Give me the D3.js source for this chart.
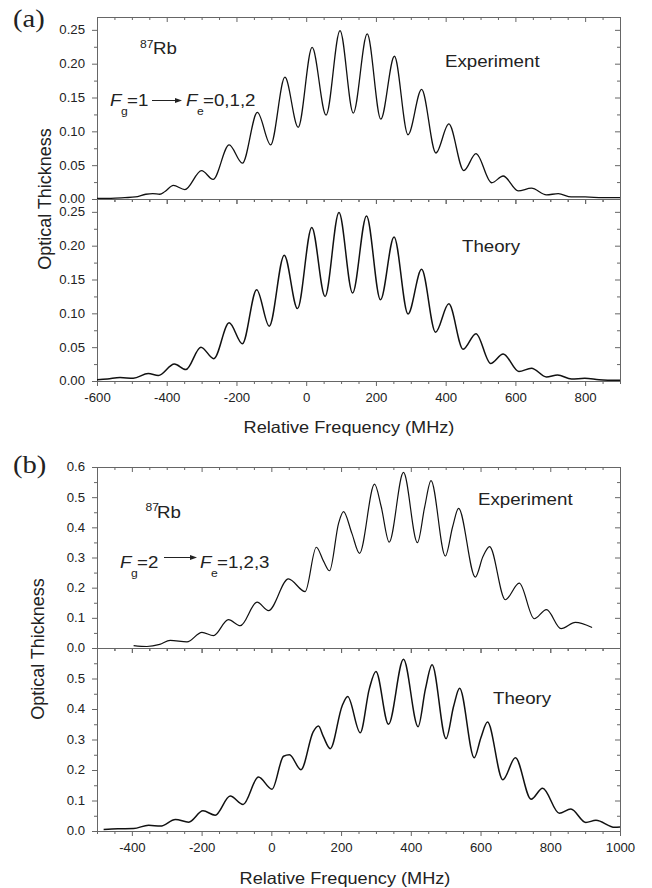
<!DOCTYPE html>
<html>
<head>
<meta charset="utf-8">
<script src="https://cdn.jsdelivr.net/npm/d3@7"></script>
<style>
  body { margin: 0; background: #fff; }
  svg text { font-family: 'Liberation Sans', Arial, sans-serif; fill: #222; }
  .axis path, .axis line { stroke: #666; }
</style>
</head>
<body>
<div id="chart"></div>
<script>
// ---- panel (a): Fg=1 -> Fe=0,1,2 ----
let aExpFreq = [-600, -560, -520, -490, -460, -440, -420, -405, -381, -348, -300, -267, -221, -183, -140, -102, -61, -23, 17, 57, 97, 135, 175, 214, 253, 292, 331, 372, 409, 452, 487, 532, 565, 608, 646, 689, 723, 760, 800, 850, 900]
let aExpOD = [0.001, 0.001, 0.002, 0.003, 0.007, 0.008, 0.007, 0.011, 0.020, 0.014, 0.042, 0.029, 0.080, 0.053, 0.128, 0.080, 0.180, 0.106, 0.224, 0.124, 0.249, 0.127, 0.244, 0.118, 0.211, 0.095, 0.162, 0.068, 0.111, 0.042, 0.067, 0.024, 0.034, 0.012, 0.016, 0.006, 0.008, 0.003, 0.003, 0.002, 0.002]

let aTheoFreq = [-600, -570, -534, -496, -453, -424, -378, -345, -302, -265, -221, -183, -142, -106, -63, -25, 16, 54, 94, 133, 173, 213, 252, 292, 331, 371, 409, 450, 487, 529, 565, 610, 646, 689, 721, 761, 799, 840, 900]
let aTheoOD = [0.002, 0.003, 0.005, 0.004, 0.011, 0.008, 0.025, 0.017, 0.050, 0.033, 0.086, 0.055, 0.135, 0.081, 0.186, 0.107, 0.227, 0.125, 0.249, 0.130, 0.244, 0.120, 0.213, 0.099, 0.165, 0.072, 0.114, 0.047, 0.070, 0.026, 0.040, 0.014, 0.019, 0.006, 0.009, 0.003, 0.004, 0.002, 0.001]

// ---- panel (b): Fg=2 -> Fe=1,2,3 ----
let bExpFreq = [-395, -357, -320, -290, -242, -199, -166, -123, -89, -41, -8, 49, 97, 129, 150, 167, 193, 207, 231, 253, 296, 315, 338, 379, 419, 440, 458, 499, 520, 537, 585, 607, 626, 671, 711, 754, 789, 831, 872, 920]
let bExpOD = [0.008, 0.005, 0.012, 0.025, 0.020, 0.052, 0.041, 0.094, 0.074, 0.152, 0.124, 0.229, 0.187, 0.334, 0.287, 0.256, 0.414, 0.452, 0.380, 0.314, 0.543, 0.469, 0.351, 0.582, 0.349, 0.469, 0.555, 0.305, 0.402, 0.463, 0.235, 0.303, 0.336, 0.160, 0.215, 0.097, 0.127, 0.064, 0.085, 0.068]

let bTheoFreq = [-481, -440, -395, -352, -318, -275, -237, -196, -161, -118, -81, -37, 2, 35, 52, 85, 120, 135, 149, 169, 203, 219, 255, 281, 300, 336, 379, 421, 442, 461, 501, 523, 540, 582, 601, 620, 664, 700, 745, 778, 826, 859, 902, 931, 985, 1000]
let bTheoOD = [0.005, 0.007, 0.008, 0.019, 0.016, 0.038, 0.029, 0.066, 0.052, 0.115, 0.087, 0.177, 0.137, 0.245, 0.250, 0.201, 0.325, 0.344, 0.310, 0.270, 0.410, 0.441, 0.322, 0.466, 0.523, 0.350, 0.563, 0.342, 0.466, 0.545, 0.303, 0.410, 0.468, 0.240, 0.306, 0.357, 0.168, 0.240, 0.104, 0.140, 0.058, 0.072, 0.028, 0.035, 0.012, 0.013]

// ticks
let aXTicks = [-600, -400, -200, 0, 200, 400, 600, 800]
let aYTicks = [0, 0.05, 0.10, 0.15, 0.20, 0.25]
let bXTicks = [-400, -200, 0, 200, 400, 600, 800, 1000]
let bYTicks = [0, 0.1, 0.2, 0.3, 0.4, 0.5, 0.6]

let width = 652
let height = 888
let left = 97
let right = 620

let svg = d3
  .select('#chart')
  .append('svg')
  .attr('width', width)
  .attr('height', height)

function addAxis(axisFn, scale, values, size, fmt, transform) {
  svg
    .append('g')
    .attr('class', 'axis')
    .attr('transform', transform)
    .call(
      axisFn(scale)
        .tickValues(values)
        .tickSize(size)
        .tickSizeOuter(0)
        .tickPadding(7)
        .tickFormat(fmt)
    )
    .call(g => g.selectAll('text').attr('font-size', 12).attr('fill', '#222').attr('class', 'wide'))
}

function drawPlot(p) {
  let x = d3.scaleLinear().domain(p.xDomain).range([left, right])
  let y = d3.scaleLinear().domain([0, p.yMax]).range([p.bottom, p.top])
  let none = () => ''

  // frame: bottom & top (ticks point down), left & right (ticks point left)
  let bottomLabels = p.xLabels ? d => String(d) : none
  addAxis(d3.axisBottom, x, p.xMajor, 5, bottomLabels, 'translate(0,' + p.bottom + ')')
  addAxis(d3.axisBottom, x, p.xMinor, 3, none, 'translate(0,' + p.bottom + ')')
  addAxis(d3.axisBottom, x, p.xMajor, 5, none, 'translate(0,' + p.top + ')')
  addAxis(d3.axisBottom, x, p.xMinor, 3, none, 'translate(0,' + p.top + ')')

  addAxis(d3.axisLeft, y, p.yMajor, 5, v => (p.yLabels.indexOf(v) >= 0 ? d3.format(p.yFmt)(v) : ''), 'translate(' + left + ',0)')
  addAxis(d3.axisLeft, y, p.yMinor, 3, none, 'translate(' + left + ',0)')
  addAxis(d3.axisLeft, y, p.yMajor, 5, none, 'translate(' + right + ',0)')
  addAxis(d3.axisLeft, y, p.yMinor, 3, none, 'translate(' + right + ',0)')

  let line = d3
    .line()
    .curve(p.curve)
    .x(d => x(d[0]))
    .y(d => y(d[1]))

  svg
    .append('path')
    .datum(d3.zip(p.freq, p.od))
    .attr('d', line)
    .attr('fill', 'none')
    .attr('stroke', '#111')
    .attr('stroke-width', p.lineWidth)
    .attr('stroke-linejoin', 'round')
}

// panel (a)
let aXMinor = d3.range(-600, 901, 50).filter(v => aXTicks.indexOf(v) < 0)
let aYMinor = [0.025, 0.075, 0.125, 0.175, 0.225]
drawPlot({
  xDomain: [-600, 900], yMax: 0.269, top: 17, bottom: 199,
  xMajor: aXTicks, xMinor: aXMinor, xLabels: false,
  yMajor: aYTicks, yMinor: aYMinor, yLabels: aYTicks, yFmt: '.2f',
  freq: aExpFreq, od: aExpOD, curve: d3.curveMonotoneX, lineWidth: 1.3
})
drawPlot({
  xDomain: [-600, 900], yMax: 0.269, top: 199, bottom: 381,
  xMajor: aXTicks, xMinor: aXMinor, xLabels: true,
  yMajor: aYTicks, yMinor: aYMinor, yLabels: aYTicks, yFmt: '.2f',
  freq: aTheoFreq, od: aTheoOD, curve: d3.curveMonotoneX, lineWidth: 1.5
})

// panel (b)
let bXMinor = d3.range(-500, 1001, 50).filter(v => bXTicks.indexOf(v) < 0)
let bYMinor = [0.05, 0.15, 0.25, 0.35, 0.45, 0.55]
drawPlot({
  xDomain: [-500, 1000], yMax: 0.6, top: 467, bottom: 648,
  xMajor: bXTicks, xMinor: bXMinor, xLabels: false,
  yMajor: bYTicks, yMinor: bYMinor, yLabels: bYTicks, yFmt: '.1f',
  freq: bExpFreq, od: bExpOD, curve: d3.curveMonotoneX, lineWidth: 1.2
})
drawPlot({
  xDomain: [-500, 1000], yMax: 0.6, top: 648, bottom: 831,
  xMajor: bXTicks, xMinor: bXMinor, xLabels: true,
  yMajor: bYTicks, yMinor: bYMinor, yLabels: bYTicks.slice(0, 6), yFmt: '.1f',
  freq: bTheoFreq, od: bTheoOD, curve: d3.curveMonotoneX, lineWidth: 1.5
})

// text helper
function label(x, y, str, size, opts) {
  opts = opts || {}
  return svg
    .append('text')
    .attr('class', 'wide')
    .attr('x', x)
    .attr('y', y)
    .attr('font-size', size)
    .attr('text-anchor', opts.anchor || 'start')
    .attr('font-style', opts.italic ? 'italic' : null)
    .style('font-family', opts.serif ? "'Liberation Serif', 'Times New Roman', serif" : null)
    .text(str)
}

function arrow(x1, x2, y) {
  svg.append('line')
    .attr('x1', x1).attr('x2', x2 - 5)
    .attr('y1', y).attr('y2', y)
    .attr('stroke', '#222').attr('stroke-width', 1)
  svg.append('path')
    .attr('d', 'M' + x2 + ',' + y + 'L' + (x2 - 7) + ',' + (y - 2.5) + 'L' + (x2 - 7) + ',' + (y + 2.5) + 'Z')
    .attr('fill', '#222')
}

// panel (a) annotations
label(13, 27, '(a)', 26, { serif: true })
label(140, 48, '87', 11)
label(153, 54, 'Rb', 17)
label(110, 106, 'F', 17, { italic: true })
label(121, 115, 'g', 11)
label(127, 106, '=1', 17)
arrow(152, 182, 100.5)
label(186, 106, 'F', 17, { italic: true })
label(197, 115, 'e', 11)
label(203, 106, '=0,1,2', 17)
label(445, 67, 'Experiment', 17)
label(462, 252, 'Theory', 17)
label(349, 433, 'Relative Frequency (MHz)', 16.5, { anchor: 'middle' })

// panel (b) annotations
label(13, 473, '(b)', 26, { serif: true })
label(145.5, 511, '87', 11)
label(157, 518, 'Rb', 17)
label(120, 568, 'F', 17, { italic: true })
label(131, 577, 'g', 11)
label(137, 568, '=2', 17)
arrow(164, 197, 557.5)
label(200, 568, 'F', 17, { italic: true })
label(211, 577, 'e', 11)
label(217, 568, '=1,2,3', 17)
label(478, 505, 'Experiment', 17)
label(493, 704, 'Theory', 17)
label(345, 884, 'Relative Frequency (MHz)', 16.5, { anchor: 'middle' })

// y titles
svg.append('text')
  .attr('transform', 'translate(51,199) rotate(-90)')
  .attr('text-anchor', 'middle')
  .attr('font-size', 18)
  .text('Optical Thickness')
svg.append('text')
  .attr('transform', 'translate(44,649) rotate(-90)')
  .attr('text-anchor', 'middle')
  .attr('font-size', 18)
  .text('Optical Thickness')

// the original figure is a little wider than tall, stretch horizontal text
svg.selectAll('text.wide').each(function() {
  let len = this.getComputedTextLength()
  if (len > 0) {
    this.setAttribute('textLength', len * 1.1)
    this.setAttribute('lengthAdjust', 'spacingAndGlyphs')
  }
})
</script>
</body>
</html>
